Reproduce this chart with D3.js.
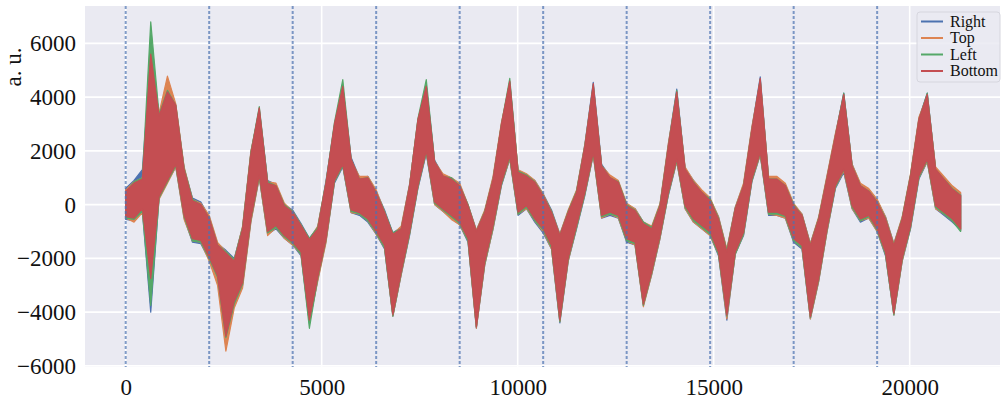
<!DOCTYPE html>
<html>
<head>
<meta charset="utf-8">
<script src="https://cdn.jsdelivr.net/npm/d3@7"></script>
<style>
  body { margin: 0; background: #fff; }
  svg { display: block; font-family: "Liberation Serif", "DejaVu Serif", serif; }
</style>
</head>
<body>
<svg id="chart" width="1007" height="399"></svg>
<script>
// samples are taken every 213 points (10 per segment of 2130)
const sampleStep = 213;

// segment boundaries (dashed lines)
const markers = [0, 2130, 4260, 6390, 8520, 10650, 12780, 14910, 17040, 19170];

const yTicks = [-6000, -4000, -2000, 0, 2000, 4000, 6000];
const xTicks = [0, 5000, 10000, 15000, 20000];

const seriesNames = ['Right', 'Top', 'Left', 'Bottom'];

// upper / lower edge of each noisy trace
const rightHi = [600,900,1300,5500,3350,4250,3650,1350,250,100,
  -450,-1450,-1700,-2000,-850,1950,3550,900,750,0,
  -200,-700,-1250,-850,900,2950,4350,1750,1000,1050,
  500,-200,-1050,-850,750,3100,4450,1650,1100,1000,
  750,0,-950,-250,1000,2950,4550,1250,1100,900,
  400,-200,-1100,-250,500,2250,4550,1500,1050,850,
  0,-150,-650,-850,0,2250,4300,1350,900,500,
  200,-450,-1700,-100,750,2850,4750,1000,1000,750,
  0,-350,-1450,-500,1050,2600,4150,1500,750,550,
  150,-450,-1450,-500,1100,3200,4150,1350,1000,650,
  400];
const rightLo = [-550,-600,-250,-4000,250,850,1400,-500,-1400,-1450,
  -2050,-2750,-4950,-3700,-3000,-600,1000,-1100,-900,-1250,
  -1500,-1900,-4400,-2800,-1350,800,1400,-300,-400,-650,
  -1100,-1650,-4150,-2600,-1150,600,1900,0,-250,-500,
  -750,-1400,-4600,-2250,-900,700,1700,-400,-150,-650,
  -1050,-1650,-4400,-2100,-900,350,1850,-500,-400,-500,
  -1400,-1500,-3750,-2600,-1250,350,1600,-150,-650,-900,
  -1150,-1900,-4300,-1850,-1150,850,1850,-400,-400,-500,
  -1400,-1650,-4250,-2850,-1000,600,1200,-150,-650,-500,
  -1000,-1900,-4100,-2100,-900,950,1600,-150,-400,-650,
  -950];

const topHi = [550,850,1000,5400,3400,4780,3750,1400,200,50,
  -400,-1400,-1750,-2050,-800,2000,3500,850,800,50,
  -250,-750,-1300,-800,850,2900,4300,1650,1050,1050,
  550,-250,-1100,-800,750,3150,4300,1600,1150,1000,
  800,0,-950,-200,1050,3050,4500,1300,1150,900,
  400,-250,-1100,-200,550,2250,4400,1450,1100,900,
  50,-150,-650,-800,50,2300,4150,1400,900,550,
  250,-450,-1650,-100,800,2900,4600,1050,1050,800,
  50,-350,-1450,-450,1100,2650,4050,1500,800,600,
  200,-450,-1450,-450,1150,3250,4050,1400,1050,700,
  450];
const topLo = [-500,-650,-300,-2900,200,800,1400,-550,-1350,-1400,
  -2100,-3000,-5450,-3850,-3100,-650,1000,-1150,-850,-1250,
  -1500,-1850,-4350,-2850,-1400,850,1450,-300,-350,-600,
  -1100,-1600,-4150,-2600,-1100,650,1950,0,-250,-550,
  -750,-1350,-4600,-2250,-900,750,1700,-350,-150,-600,
  -1000,-1650,-4350,-2100,-850,400,1850,-500,-350,-500,
  -1350,-1500,-3800,-2600,-1250,400,1600,-150,-650,-900,
  -1150,-1850,-4250,-1850,-1100,900,1850,-350,-400,-500,
  -1350,-1600,-4250,-2850,-1000,650,1250,-150,-600,-500,
  -1000,-1850,-4100,-2100,-850,1000,1600,-150,-350,-600,
  -950];

const leftHi = [450,850,1000,6800,3350,4250,3700,1350,200,0,
  -500,-1500,-1750,-2050,-850,1950,3650,850,700,0,
  -250,-750,-1250,-850,850,3050,4650,1700,950,1000,
  450,-250,-1050,-900,700,3200,4650,1600,1050,1000,
  700,0,-1000,-250,950,3000,4700,1250,1100,850,
  350,-250,-1150,-250,500,2200,4450,1450,1000,850,
  0,-200,-650,-850,0,2200,4250,1300,850,450,
  200,-500,-1700,-150,700,2800,4650,950,950,700,
  0,-400,-1500,-500,1000,2550,4150,1450,700,500,
  100,-500,-1500,-500,1100,3150,4150,1300,950,600,
  350];
const leftLo = [-500,-550,-250,-3750,250,850,1450,-450,-1350,-1400,
  -2000,-2700,-4950,-3700,-2950,-550,1050,-1050,-850,-1200,
  -1450,-1850,-4600,-2750,-1300,850,1450,-250,-350,-600,
  -1050,-1600,-4150,-2550,-1100,650,1950,50,-200,-450,
  -700,-1350,-4550,-2200,-850,750,1750,-350,-100,-600,
  -950,-1600,-4350,-2050,-850,400,1900,-450,-350,-450,
  -1350,-1450,-3750,-2550,-1200,400,1650,-100,-600,-850,
  -1100,-1850,-4150,-1850,-1100,900,1900,-350,-350,-450,
  -1350,-1600,-4200,-2800,-950,650,1300,-100,-600,-450,
  -950,-1850,-4100,-2050,-850,1000,1650,-100,-350,-600,
  -1000];

const bottomHi = [500,800,950,5600,3300,4200,3700,1300,150,0,
  -500,-1500,-1800,-2100,-900,1900,3600,800,700,-40,
  -280,-780,-1300,-900,830,3000,4400,1700,950,1000,
  450,-280,-1100,-900,700,3170,4400,1600,1070,950,
  700,-40,-1000,-280,950,3000,4600,1200,1070,830,
  330,-280,-1150,-280,460,2190,4500,1440,1010,830,
  -40,-220,-700,-900,-40,2190,4200,1320,830,460,
  150,-530,-1770,-160,700,2800,4700,950,950,700,
  -40,-400,-1520,-530,1000,2560,4100,1440,700,500,
  90,-530,-1520,-530,1070,3170,4100,1320,950,580,
  330];
const bottomLo = [-450,-500,-150,-2750,300,900,1500,-400,-1270,-1330,
  -1950,-2650,-4900,-3600,-2900,-500,1100,-1000,-780,-1150,
  -1400,-1770,-4300,-2700,-1270,900,1500,-200,-300,-530,
  -1000,-1520,-4100,-2500,-1030,700,2000,100,-160,-400,
  -650,-1270,-4550,-2140,-780,800,1800,-280,-40,-530,
  -900,-1520,-4300,-2000,-780,460,1940,-400,-280,-400,
  -1270,-1400,-3700,-2500,-1150,460,1690,-40,-530,-780,
  -1020,-1770,-4110,-1770,-1030,950,1940,-280,-280,-400,
  -1270,-1520,-4170,-2750,-900,700,1320,-40,-530,-400,
  -900,-1770,-4050,-2010,-780,1070,1690,-40,-280,-530,
  -900];

const colors = ['#4C72B0', '#DD8452', '#55A868', '#C44E52'];

const svg = d3.select('#chart');
const margin = { top: 6, right: 7, bottom: 32, left: 85 };
const width = +svg.attr('width') - margin.left - margin.right;
const height = +svg.attr('height') - margin.top - margin.bottom;

const x = d3.scaleLinear().domain([-1038, 22304]).range([0, width]);
const y = d3.scaleLinear().domain([-6040, 7390]).range([height, 0]);

const g = svg.append('g')
  .attr('transform', `translate(${margin.left},${margin.top})`);

g.append('rect')
  .attr('width', width)
  .attr('height', height)
  .attr('fill', '#EAEAF2');

g.append('clipPath').attr('id', 'plotclip')
  .append('rect').attr('width', width).attr('height', height);

// grid
g.selectAll('.ygrid')
  .data(yTicks)
  .enter().append('line')
  .attr('x1', 0).attr('x2', width)
  .attr('y1', d => y(d)).attr('y2', d => y(d))
  .attr('stroke', '#fff').attr('stroke-width', 1.6);

g.selectAll('.xgrid')
  .data(xTicks)
  .enter().append('line')
  .attr('y1', 0).attr('y2', height)
  .attr('x1', d => x(d)).attr('x2', d => x(d))
  .attr('stroke', '#fff').attr('stroke-width', 1.6);

// axes (labels only, seaborn style)
const yAxis = g.append('g')
  .call(d3.axisLeft(y).tickValues(yTicks).tickSize(0).tickPadding(9)
    .tickFormat(d => d < 0 ? '\u2212' + Math.abs(d) : d));
const xAxis = g.append('g')
  .attr('transform', `translate(0,${height})`)
  .call(d3.axisBottom(x).tickValues(xTicks).tickSize(0).tickPadding(12)
    .tickFormat(d => d));
[yAxis, xAxis].forEach(a => {
  a.select('.domain').remove();
  a.selectAll('text')
    .attr('font-family', '"Liberation Serif", serif')
    .attr('font-size', 23)
    .attr('fill', '#111');
});

// traces
const series = [
  { name: 'Right', hi: rightHi, lo: rightLo },
  { name: 'Top', hi: topHi, lo: topLo },
  { name: 'Left', hi: leftHi, lo: leftLo },
  { name: 'Bottom', hi: bottomHi, lo: bottomLo },
];

const area = d3.area()
  .x((d, i) => x(i * sampleStep))
  .y0(d => y(d[0]))
  .y1(d => y(d[1]));

const traces = g.append('g').attr('clip-path', 'url(#plotclip)');
series.forEach((s, k) => {
  const pts = s.hi.map((h, i) => [s.lo[i], h]);
  traces.append('path')
    .datum(pts)
    .attr('d', area)
    .attr('fill', colors[k])
    .attr('stroke', colors[k])
    .attr('stroke-width', 1.2)
    .attr('stroke-linejoin', 'round');
});

// segment markers
g.selectAll('.marker')
  .data(markers)
  .enter().append('line')
  .attr('x1', d => x(d)).attr('x2', d => x(d))
  .attr('y1', 0).attr('y2', height)
  .attr('stroke', '#4C72B0')
  .attr('stroke-opacity', 0.7)
  .attr('stroke-width', 2)
  .attr('stroke-dasharray', '3,2');

// y label
svg.append('text')
  .attr('transform', 'translate(21,67) rotate(-90)')
  .attr('text-anchor', 'middle')
  .attr('font-size', 23)
  .attr('fill', '#111')
  .text('a. u.');

// legend
const legend = svg.append('g').attr('transform', 'translate(917,12)');
legend.append('rect')
  .attr('width', 83).attr('height', 70)
  .attr('rx', 3)
  .attr('fill', '#EAEAF2')
  .attr('fill-opacity', 0.85)
  .attr('stroke', '#d6d6de');

seriesNames.forEach((name, k) => {
  const cy = 9.5 + k * 16.5;
  legend.append('line')
    .attr('x1', 4).attr('x2', 26)
    .attr('y1', cy).attr('y2', cy)
    .attr('stroke', colors[k]).attr('stroke-width', 2);
  legend.append('text')
    .attr('x', 33).attr('y', cy + 5)
    .attr('font-size', 16)
    .attr('fill', '#111')
    .text(name);
});
</script>
</body>
</html>
